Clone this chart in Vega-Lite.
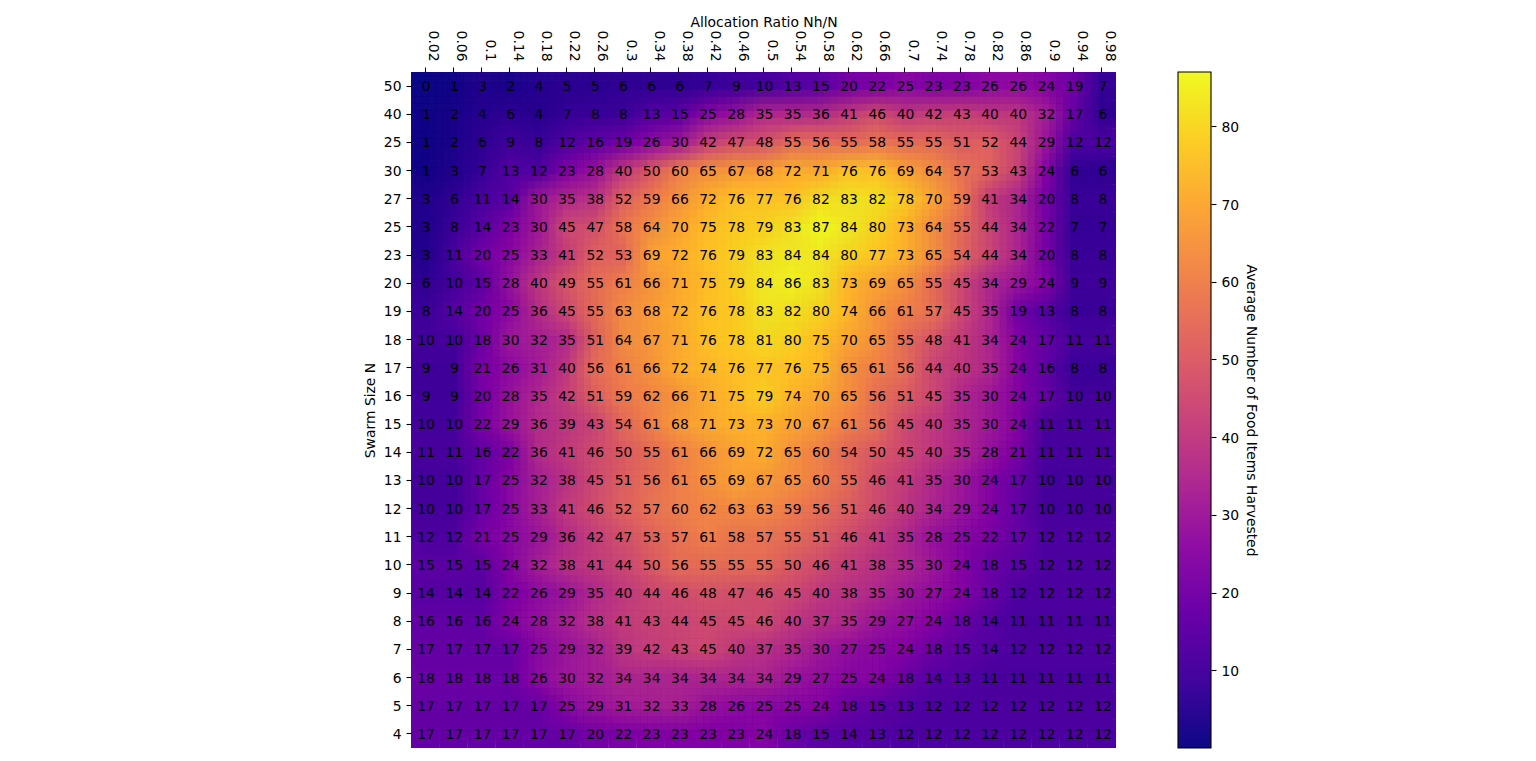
{"$schema":"https://vega.github.io/schema/vega-lite/v6.json","padding":{"left":363,"top":15,"right":5,"bottom":5},"background":"white","config":{"view":{"stroke":null},"font":"DejaVu Sans","axis":{"labelFont":"DejaVu Sans","titleFont":"DejaVu Sans","labelFontSize":13.9,"titleFontSize":13.9,"titleFontWeight":"normal","labelColor":"black","titleColor":"black","tickColor":"black","tickSize":5,"tickWidth":1.1,"labelPadding":5,"grid":false}},"hconcat":[{"width":705,"height":676,"data":{"values":[
{"n":"50","r":0,"a":0.02,"v":0},{"n":"50","r":0,"a":0.06,"v":1},{"n":"50","r":0,"a":0.1,"v":3},{"n":"50","r":0,"a":0.14,"v":2},{"n":"50","r":0,"a":0.18,"v":4},{"n":"50","r":0,"a":0.22,"v":5},{"n":"50","r":0,"a":0.26,"v":5},{"n":"50","r":0,"a":0.3,"v":6},{"n":"50","r":0,"a":0.34,"v":6},{"n":"50","r":0,"a":0.38,"v":6},{"n":"50","r":0,"a":0.42,"v":7},{"n":"50","r":0,"a":0.46,"v":9},{"n":"50","r":0,"a":0.5,"v":10},{"n":"50","r":0,"a":0.54,"v":13},{"n":"50","r":0,"a":0.58,"v":15},{"n":"50","r":0,"a":0.62,"v":20},{"n":"50","r":0,"a":0.66,"v":22},{"n":"50","r":0,"a":0.7,"v":25},{"n":"50","r":0,"a":0.74,"v":23},{"n":"50","r":0,"a":0.78,"v":23},{"n":"50","r":0,"a":0.82,"v":26},{"n":"50","r":0,"a":0.86,"v":26},{"n":"50","r":0,"a":0.9,"v":24},{"n":"50","r":0,"a":0.94,"v":19},{"n":"50","r":0,"a":0.98,"v":7},
{"n":"40","r":1,"a":0.02,"v":1},{"n":"40","r":1,"a":0.06,"v":2},{"n":"40","r":1,"a":0.1,"v":4},{"n":"40","r":1,"a":0.14,"v":6},{"n":"40","r":1,"a":0.18,"v":4},{"n":"40","r":1,"a":0.22,"v":7},{"n":"40","r":1,"a":0.26,"v":8},{"n":"40","r":1,"a":0.3,"v":8},{"n":"40","r":1,"a":0.34,"v":13},{"n":"40","r":1,"a":0.38,"v":15},{"n":"40","r":1,"a":0.42,"v":25},{"n":"40","r":1,"a":0.46,"v":28},{"n":"40","r":1,"a":0.5,"v":35},{"n":"40","r":1,"a":0.54,"v":35},{"n":"40","r":1,"a":0.58,"v":36},{"n":"40","r":1,"a":0.62,"v":41},{"n":"40","r":1,"a":0.66,"v":46},{"n":"40","r":1,"a":0.7,"v":40},{"n":"40","r":1,"a":0.74,"v":42},{"n":"40","r":1,"a":0.78,"v":43},{"n":"40","r":1,"a":0.82,"v":40},{"n":"40","r":1,"a":0.86,"v":40},{"n":"40","r":1,"a":0.9,"v":32},{"n":"40","r":1,"a":0.94,"v":17},{"n":"40","r":1,"a":0.98,"v":6},
{"n":"25","r":2,"a":0.02,"v":1},{"n":"25","r":2,"a":0.06,"v":2},{"n":"25","r":2,"a":0.1,"v":6},{"n":"25","r":2,"a":0.14,"v":9},{"n":"25","r":2,"a":0.18,"v":8},{"n":"25","r":2,"a":0.22,"v":12},{"n":"25","r":2,"a":0.26,"v":16},{"n":"25","r":2,"a":0.3,"v":19},{"n":"25","r":2,"a":0.34,"v":26},{"n":"25","r":2,"a":0.38,"v":30},{"n":"25","r":2,"a":0.42,"v":42},{"n":"25","r":2,"a":0.46,"v":47},{"n":"25","r":2,"a":0.5,"v":48},{"n":"25","r":2,"a":0.54,"v":55},{"n":"25","r":2,"a":0.58,"v":56},{"n":"25","r":2,"a":0.62,"v":55},{"n":"25","r":2,"a":0.66,"v":58},{"n":"25","r":2,"a":0.7,"v":55},{"n":"25","r":2,"a":0.74,"v":55},{"n":"25","r":2,"a":0.78,"v":51},{"n":"25","r":2,"a":0.82,"v":52},{"n":"25","r":2,"a":0.86,"v":44},{"n":"25","r":2,"a":0.9,"v":29},{"n":"25","r":2,"a":0.94,"v":12},{"n":"25","r":2,"a":0.98,"v":12},
{"n":"30","r":3,"a":0.02,"v":1},{"n":"30","r":3,"a":0.06,"v":3},{"n":"30","r":3,"a":0.1,"v":7},{"n":"30","r":3,"a":0.14,"v":13},{"n":"30","r":3,"a":0.18,"v":12},{"n":"30","r":3,"a":0.22,"v":23},{"n":"30","r":3,"a":0.26,"v":28},{"n":"30","r":3,"a":0.3,"v":40},{"n":"30","r":3,"a":0.34,"v":50},{"n":"30","r":3,"a":0.38,"v":60},{"n":"30","r":3,"a":0.42,"v":65},{"n":"30","r":3,"a":0.46,"v":67},{"n":"30","r":3,"a":0.5,"v":68},{"n":"30","r":3,"a":0.54,"v":72},{"n":"30","r":3,"a":0.58,"v":71},{"n":"30","r":3,"a":0.62,"v":76},{"n":"30","r":3,"a":0.66,"v":76},{"n":"30","r":3,"a":0.7,"v":69},{"n":"30","r":3,"a":0.74,"v":64},{"n":"30","r":3,"a":0.78,"v":57},{"n":"30","r":3,"a":0.82,"v":53},{"n":"30","r":3,"a":0.86,"v":43},{"n":"30","r":3,"a":0.9,"v":24},{"n":"30","r":3,"a":0.94,"v":6},{"n":"30","r":3,"a":0.98,"v":6},
{"n":"27","r":4,"a":0.02,"v":3},{"n":"27","r":4,"a":0.06,"v":6},{"n":"27","r":4,"a":0.1,"v":11},{"n":"27","r":4,"a":0.14,"v":14},{"n":"27","r":4,"a":0.18,"v":30},{"n":"27","r":4,"a":0.22,"v":35},{"n":"27","r":4,"a":0.26,"v":38},{"n":"27","r":4,"a":0.3,"v":52},{"n":"27","r":4,"a":0.34,"v":59},{"n":"27","r":4,"a":0.38,"v":66},{"n":"27","r":4,"a":0.42,"v":72},{"n":"27","r":4,"a":0.46,"v":76},{"n":"27","r":4,"a":0.5,"v":77},{"n":"27","r":4,"a":0.54,"v":76},{"n":"27","r":4,"a":0.58,"v":82},{"n":"27","r":4,"a":0.62,"v":83},{"n":"27","r":4,"a":0.66,"v":82},{"n":"27","r":4,"a":0.7,"v":78},{"n":"27","r":4,"a":0.74,"v":70},{"n":"27","r":4,"a":0.78,"v":59},{"n":"27","r":4,"a":0.82,"v":41},{"n":"27","r":4,"a":0.86,"v":34},{"n":"27","r":4,"a":0.9,"v":20},{"n":"27","r":4,"a":0.94,"v":8},{"n":"27","r":4,"a":0.98,"v":8},
{"n":"25","r":5,"a":0.02,"v":3},{"n":"25","r":5,"a":0.06,"v":8},{"n":"25","r":5,"a":0.1,"v":14},{"n":"25","r":5,"a":0.14,"v":23},{"n":"25","r":5,"a":0.18,"v":30},{"n":"25","r":5,"a":0.22,"v":45},{"n":"25","r":5,"a":0.26,"v":47},{"n":"25","r":5,"a":0.3,"v":58},{"n":"25","r":5,"a":0.34,"v":64},{"n":"25","r":5,"a":0.38,"v":70},{"n":"25","r":5,"a":0.42,"v":75},{"n":"25","r":5,"a":0.46,"v":78},{"n":"25","r":5,"a":0.5,"v":79},{"n":"25","r":5,"a":0.54,"v":83},{"n":"25","r":5,"a":0.58,"v":87},{"n":"25","r":5,"a":0.62,"v":84},{"n":"25","r":5,"a":0.66,"v":80},{"n":"25","r":5,"a":0.7,"v":73},{"n":"25","r":5,"a":0.74,"v":64},{"n":"25","r":5,"a":0.78,"v":55},{"n":"25","r":5,"a":0.82,"v":44},{"n":"25","r":5,"a":0.86,"v":34},{"n":"25","r":5,"a":0.9,"v":22},{"n":"25","r":5,"a":0.94,"v":7},{"n":"25","r":5,"a":0.98,"v":7},
{"n":"23","r":6,"a":0.02,"v":3},{"n":"23","r":6,"a":0.06,"v":11},{"n":"23","r":6,"a":0.1,"v":20},{"n":"23","r":6,"a":0.14,"v":25},{"n":"23","r":6,"a":0.18,"v":33},{"n":"23","r":6,"a":0.22,"v":41},{"n":"23","r":6,"a":0.26,"v":52},{"n":"23","r":6,"a":0.3,"v":53},{"n":"23","r":6,"a":0.34,"v":69},{"n":"23","r":6,"a":0.38,"v":72},{"n":"23","r":6,"a":0.42,"v":76},{"n":"23","r":6,"a":0.46,"v":79},{"n":"23","r":6,"a":0.5,"v":83},{"n":"23","r":6,"a":0.54,"v":84},{"n":"23","r":6,"a":0.58,"v":84},{"n":"23","r":6,"a":0.62,"v":80},{"n":"23","r":6,"a":0.66,"v":77},{"n":"23","r":6,"a":0.7,"v":73},{"n":"23","r":6,"a":0.74,"v":65},{"n":"23","r":6,"a":0.78,"v":54},{"n":"23","r":6,"a":0.82,"v":44},{"n":"23","r":6,"a":0.86,"v":34},{"n":"23","r":6,"a":0.9,"v":20},{"n":"23","r":6,"a":0.94,"v":8},{"n":"23","r":6,"a":0.98,"v":8},
{"n":"20","r":7,"a":0.02,"v":6},{"n":"20","r":7,"a":0.06,"v":10},{"n":"20","r":7,"a":0.1,"v":15},{"n":"20","r":7,"a":0.14,"v":28},{"n":"20","r":7,"a":0.18,"v":40},{"n":"20","r":7,"a":0.22,"v":49},{"n":"20","r":7,"a":0.26,"v":55},{"n":"20","r":7,"a":0.3,"v":61},{"n":"20","r":7,"a":0.34,"v":66},{"n":"20","r":7,"a":0.38,"v":71},{"n":"20","r":7,"a":0.42,"v":75},{"n":"20","r":7,"a":0.46,"v":79},{"n":"20","r":7,"a":0.5,"v":84},{"n":"20","r":7,"a":0.54,"v":86},{"n":"20","r":7,"a":0.58,"v":83},{"n":"20","r":7,"a":0.62,"v":73},{"n":"20","r":7,"a":0.66,"v":69},{"n":"20","r":7,"a":0.7,"v":65},{"n":"20","r":7,"a":0.74,"v":55},{"n":"20","r":7,"a":0.78,"v":45},{"n":"20","r":7,"a":0.82,"v":34},{"n":"20","r":7,"a":0.86,"v":29},{"n":"20","r":7,"a":0.9,"v":24},{"n":"20","r":7,"a":0.94,"v":9},{"n":"20","r":7,"a":0.98,"v":9},
{"n":"19","r":8,"a":0.02,"v":8},{"n":"19","r":8,"a":0.06,"v":14},{"n":"19","r":8,"a":0.1,"v":20},{"n":"19","r":8,"a":0.14,"v":25},{"n":"19","r":8,"a":0.18,"v":36},{"n":"19","r":8,"a":0.22,"v":45},{"n":"19","r":8,"a":0.26,"v":55},{"n":"19","r":8,"a":0.3,"v":63},{"n":"19","r":8,"a":0.34,"v":68},{"n":"19","r":8,"a":0.38,"v":72},{"n":"19","r":8,"a":0.42,"v":76},{"n":"19","r":8,"a":0.46,"v":78},{"n":"19","r":8,"a":0.5,"v":83},{"n":"19","r":8,"a":0.54,"v":82},{"n":"19","r":8,"a":0.58,"v":80},{"n":"19","r":8,"a":0.62,"v":74},{"n":"19","r":8,"a":0.66,"v":66},{"n":"19","r":8,"a":0.7,"v":61},{"n":"19","r":8,"a":0.74,"v":57},{"n":"19","r":8,"a":0.78,"v":45},{"n":"19","r":8,"a":0.82,"v":35},{"n":"19","r":8,"a":0.86,"v":19},{"n":"19","r":8,"a":0.9,"v":13},{"n":"19","r":8,"a":0.94,"v":8},{"n":"19","r":8,"a":0.98,"v":8},
{"n":"18","r":9,"a":0.02,"v":10},{"n":"18","r":9,"a":0.06,"v":10},{"n":"18","r":9,"a":0.1,"v":18},{"n":"18","r":9,"a":0.14,"v":30},{"n":"18","r":9,"a":0.18,"v":32},{"n":"18","r":9,"a":0.22,"v":35},{"n":"18","r":9,"a":0.26,"v":51},{"n":"18","r":9,"a":0.3,"v":64},{"n":"18","r":9,"a":0.34,"v":67},{"n":"18","r":9,"a":0.38,"v":71},{"n":"18","r":9,"a":0.42,"v":76},{"n":"18","r":9,"a":0.46,"v":78},{"n":"18","r":9,"a":0.5,"v":81},{"n":"18","r":9,"a":0.54,"v":80},{"n":"18","r":9,"a":0.58,"v":75},{"n":"18","r":9,"a":0.62,"v":70},{"n":"18","r":9,"a":0.66,"v":65},{"n":"18","r":9,"a":0.7,"v":55},{"n":"18","r":9,"a":0.74,"v":48},{"n":"18","r":9,"a":0.78,"v":41},{"n":"18","r":9,"a":0.82,"v":34},{"n":"18","r":9,"a":0.86,"v":24},{"n":"18","r":9,"a":0.9,"v":17},{"n":"18","r":9,"a":0.94,"v":11},{"n":"18","r":9,"a":0.98,"v":11},
{"n":"17","r":10,"a":0.02,"v":9},{"n":"17","r":10,"a":0.06,"v":9},{"n":"17","r":10,"a":0.1,"v":21},{"n":"17","r":10,"a":0.14,"v":26},{"n":"17","r":10,"a":0.18,"v":31},{"n":"17","r":10,"a":0.22,"v":40},{"n":"17","r":10,"a":0.26,"v":56},{"n":"17","r":10,"a":0.3,"v":61},{"n":"17","r":10,"a":0.34,"v":66},{"n":"17","r":10,"a":0.38,"v":72},{"n":"17","r":10,"a":0.42,"v":74},{"n":"17","r":10,"a":0.46,"v":76},{"n":"17","r":10,"a":0.5,"v":77},{"n":"17","r":10,"a":0.54,"v":76},{"n":"17","r":10,"a":0.58,"v":75},{"n":"17","r":10,"a":0.62,"v":65},{"n":"17","r":10,"a":0.66,"v":61},{"n":"17","r":10,"a":0.7,"v":56},{"n":"17","r":10,"a":0.74,"v":44},{"n":"17","r":10,"a":0.78,"v":40},{"n":"17","r":10,"a":0.82,"v":35},{"n":"17","r":10,"a":0.86,"v":24},{"n":"17","r":10,"a":0.9,"v":16},{"n":"17","r":10,"a":0.94,"v":8},{"n":"17","r":10,"a":0.98,"v":8},
{"n":"16","r":11,"a":0.02,"v":9},{"n":"16","r":11,"a":0.06,"v":9},{"n":"16","r":11,"a":0.1,"v":20},{"n":"16","r":11,"a":0.14,"v":28},{"n":"16","r":11,"a":0.18,"v":35},{"n":"16","r":11,"a":0.22,"v":42},{"n":"16","r":11,"a":0.26,"v":51},{"n":"16","r":11,"a":0.3,"v":59},{"n":"16","r":11,"a":0.34,"v":62},{"n":"16","r":11,"a":0.38,"v":66},{"n":"16","r":11,"a":0.42,"v":71},{"n":"16","r":11,"a":0.46,"v":75},{"n":"16","r":11,"a":0.5,"v":79},{"n":"16","r":11,"a":0.54,"v":74},{"n":"16","r":11,"a":0.58,"v":70},{"n":"16","r":11,"a":0.62,"v":65},{"n":"16","r":11,"a":0.66,"v":56},{"n":"16","r":11,"a":0.7,"v":51},{"n":"16","r":11,"a":0.74,"v":45},{"n":"16","r":11,"a":0.78,"v":35},{"n":"16","r":11,"a":0.82,"v":30},{"n":"16","r":11,"a":0.86,"v":24},{"n":"16","r":11,"a":0.9,"v":17},{"n":"16","r":11,"a":0.94,"v":10},{"n":"16","r":11,"a":0.98,"v":10},
{"n":"15","r":12,"a":0.02,"v":10},{"n":"15","r":12,"a":0.06,"v":10},{"n":"15","r":12,"a":0.1,"v":22},{"n":"15","r":12,"a":0.14,"v":29},{"n":"15","r":12,"a":0.18,"v":36},{"n":"15","r":12,"a":0.22,"v":39},{"n":"15","r":12,"a":0.26,"v":43},{"n":"15","r":12,"a":0.3,"v":54},{"n":"15","r":12,"a":0.34,"v":61},{"n":"15","r":12,"a":0.38,"v":68},{"n":"15","r":12,"a":0.42,"v":71},{"n":"15","r":12,"a":0.46,"v":73},{"n":"15","r":12,"a":0.5,"v":73},{"n":"15","r":12,"a":0.54,"v":70},{"n":"15","r":12,"a":0.58,"v":67},{"n":"15","r":12,"a":0.62,"v":61},{"n":"15","r":12,"a":0.66,"v":56},{"n":"15","r":12,"a":0.7,"v":45},{"n":"15","r":12,"a":0.74,"v":40},{"n":"15","r":12,"a":0.78,"v":35},{"n":"15","r":12,"a":0.82,"v":30},{"n":"15","r":12,"a":0.86,"v":24},{"n":"15","r":12,"a":0.9,"v":11},{"n":"15","r":12,"a":0.94,"v":11},{"n":"15","r":12,"a":0.98,"v":11},
{"n":"14","r":13,"a":0.02,"v":11},{"n":"14","r":13,"a":0.06,"v":11},{"n":"14","r":13,"a":0.1,"v":16},{"n":"14","r":13,"a":0.14,"v":22},{"n":"14","r":13,"a":0.18,"v":36},{"n":"14","r":13,"a":0.22,"v":41},{"n":"14","r":13,"a":0.26,"v":46},{"n":"14","r":13,"a":0.3,"v":50},{"n":"14","r":13,"a":0.34,"v":55},{"n":"14","r":13,"a":0.38,"v":61},{"n":"14","r":13,"a":0.42,"v":66},{"n":"14","r":13,"a":0.46,"v":69},{"n":"14","r":13,"a":0.5,"v":72},{"n":"14","r":13,"a":0.54,"v":65},{"n":"14","r":13,"a":0.58,"v":60},{"n":"14","r":13,"a":0.62,"v":54},{"n":"14","r":13,"a":0.66,"v":50},{"n":"14","r":13,"a":0.7,"v":45},{"n":"14","r":13,"a":0.74,"v":40},{"n":"14","r":13,"a":0.78,"v":35},{"n":"14","r":13,"a":0.82,"v":28},{"n":"14","r":13,"a":0.86,"v":21},{"n":"14","r":13,"a":0.9,"v":11},{"n":"14","r":13,"a":0.94,"v":11},{"n":"14","r":13,"a":0.98,"v":11},
{"n":"13","r":14,"a":0.02,"v":10},{"n":"13","r":14,"a":0.06,"v":10},{"n":"13","r":14,"a":0.1,"v":17},{"n":"13","r":14,"a":0.14,"v":25},{"n":"13","r":14,"a":0.18,"v":32},{"n":"13","r":14,"a":0.22,"v":38},{"n":"13","r":14,"a":0.26,"v":45},{"n":"13","r":14,"a":0.3,"v":51},{"n":"13","r":14,"a":0.34,"v":56},{"n":"13","r":14,"a":0.38,"v":61},{"n":"13","r":14,"a":0.42,"v":65},{"n":"13","r":14,"a":0.46,"v":69},{"n":"13","r":14,"a":0.5,"v":67},{"n":"13","r":14,"a":0.54,"v":65},{"n":"13","r":14,"a":0.58,"v":60},{"n":"13","r":14,"a":0.62,"v":55},{"n":"13","r":14,"a":0.66,"v":46},{"n":"13","r":14,"a":0.7,"v":41},{"n":"13","r":14,"a":0.74,"v":35},{"n":"13","r":14,"a":0.78,"v":30},{"n":"13","r":14,"a":0.82,"v":24},{"n":"13","r":14,"a":0.86,"v":17},{"n":"13","r":14,"a":0.9,"v":10},{"n":"13","r":14,"a":0.94,"v":10},{"n":"13","r":14,"a":0.98,"v":10},
{"n":"12","r":15,"a":0.02,"v":10},{"n":"12","r":15,"a":0.06,"v":10},{"n":"12","r":15,"a":0.1,"v":17},{"n":"12","r":15,"a":0.14,"v":25},{"n":"12","r":15,"a":0.18,"v":33},{"n":"12","r":15,"a":0.22,"v":41},{"n":"12","r":15,"a":0.26,"v":46},{"n":"12","r":15,"a":0.3,"v":52},{"n":"12","r":15,"a":0.34,"v":57},{"n":"12","r":15,"a":0.38,"v":60},{"n":"12","r":15,"a":0.42,"v":62},{"n":"12","r":15,"a":0.46,"v":63},{"n":"12","r":15,"a":0.5,"v":63},{"n":"12","r":15,"a":0.54,"v":59},{"n":"12","r":15,"a":0.58,"v":56},{"n":"12","r":15,"a":0.62,"v":51},{"n":"12","r":15,"a":0.66,"v":46},{"n":"12","r":15,"a":0.7,"v":40},{"n":"12","r":15,"a":0.74,"v":34},{"n":"12","r":15,"a":0.78,"v":29},{"n":"12","r":15,"a":0.82,"v":24},{"n":"12","r":15,"a":0.86,"v":17},{"n":"12","r":15,"a":0.9,"v":10},{"n":"12","r":15,"a":0.94,"v":10},{"n":"12","r":15,"a":0.98,"v":10},
{"n":"11","r":16,"a":0.02,"v":12},{"n":"11","r":16,"a":0.06,"v":12},{"n":"11","r":16,"a":0.1,"v":21},{"n":"11","r":16,"a":0.14,"v":25},{"n":"11","r":16,"a":0.18,"v":29},{"n":"11","r":16,"a":0.22,"v":36},{"n":"11","r":16,"a":0.26,"v":42},{"n":"11","r":16,"a":0.3,"v":47},{"n":"11","r":16,"a":0.34,"v":53},{"n":"11","r":16,"a":0.38,"v":57},{"n":"11","r":16,"a":0.42,"v":61},{"n":"11","r":16,"a":0.46,"v":58},{"n":"11","r":16,"a":0.5,"v":57},{"n":"11","r":16,"a":0.54,"v":55},{"n":"11","r":16,"a":0.58,"v":51},{"n":"11","r":16,"a":0.62,"v":46},{"n":"11","r":16,"a":0.66,"v":41},{"n":"11","r":16,"a":0.7,"v":35},{"n":"11","r":16,"a":0.74,"v":28},{"n":"11","r":16,"a":0.78,"v":25},{"n":"11","r":16,"a":0.82,"v":22},{"n":"11","r":16,"a":0.86,"v":17},{"n":"11","r":16,"a":0.9,"v":12},{"n":"11","r":16,"a":0.94,"v":12},{"n":"11","r":16,"a":0.98,"v":12},
{"n":"10","r":17,"a":0.02,"v":15},{"n":"10","r":17,"a":0.06,"v":15},{"n":"10","r":17,"a":0.1,"v":15},{"n":"10","r":17,"a":0.14,"v":24},{"n":"10","r":17,"a":0.18,"v":32},{"n":"10","r":17,"a":0.22,"v":38},{"n":"10","r":17,"a":0.26,"v":41},{"n":"10","r":17,"a":0.3,"v":44},{"n":"10","r":17,"a":0.34,"v":50},{"n":"10","r":17,"a":0.38,"v":56},{"n":"10","r":17,"a":0.42,"v":55},{"n":"10","r":17,"a":0.46,"v":55},{"n":"10","r":17,"a":0.5,"v":55},{"n":"10","r":17,"a":0.54,"v":50},{"n":"10","r":17,"a":0.58,"v":46},{"n":"10","r":17,"a":0.62,"v":41},{"n":"10","r":17,"a":0.66,"v":38},{"n":"10","r":17,"a":0.7,"v":35},{"n":"10","r":17,"a":0.74,"v":30},{"n":"10","r":17,"a":0.78,"v":24},{"n":"10","r":17,"a":0.82,"v":18},{"n":"10","r":17,"a":0.86,"v":15},{"n":"10","r":17,"a":0.9,"v":12},{"n":"10","r":17,"a":0.94,"v":12},{"n":"10","r":17,"a":0.98,"v":12},
{"n":"9","r":18,"a":0.02,"v":14},{"n":"9","r":18,"a":0.06,"v":14},{"n":"9","r":18,"a":0.1,"v":14},{"n":"9","r":18,"a":0.14,"v":22},{"n":"9","r":18,"a":0.18,"v":26},{"n":"9","r":18,"a":0.22,"v":29},{"n":"9","r":18,"a":0.26,"v":35},{"n":"9","r":18,"a":0.3,"v":40},{"n":"9","r":18,"a":0.34,"v":44},{"n":"9","r":18,"a":0.38,"v":46},{"n":"9","r":18,"a":0.42,"v":48},{"n":"9","r":18,"a":0.46,"v":47},{"n":"9","r":18,"a":0.5,"v":46},{"n":"9","r":18,"a":0.54,"v":45},{"n":"9","r":18,"a":0.58,"v":40},{"n":"9","r":18,"a":0.62,"v":38},{"n":"9","r":18,"a":0.66,"v":35},{"n":"9","r":18,"a":0.7,"v":30},{"n":"9","r":18,"a":0.74,"v":27},{"n":"9","r":18,"a":0.78,"v":24},{"n":"9","r":18,"a":0.82,"v":18},{"n":"9","r":18,"a":0.86,"v":12},{"n":"9","r":18,"a":0.9,"v":12},{"n":"9","r":18,"a":0.94,"v":12},{"n":"9","r":18,"a":0.98,"v":12},
{"n":"8","r":19,"a":0.02,"v":16},{"n":"8","r":19,"a":0.06,"v":16},{"n":"8","r":19,"a":0.1,"v":16},{"n":"8","r":19,"a":0.14,"v":24},{"n":"8","r":19,"a":0.18,"v":28},{"n":"8","r":19,"a":0.22,"v":32},{"n":"8","r":19,"a":0.26,"v":38},{"n":"8","r":19,"a":0.3,"v":41},{"n":"8","r":19,"a":0.34,"v":43},{"n":"8","r":19,"a":0.38,"v":44},{"n":"8","r":19,"a":0.42,"v":45},{"n":"8","r":19,"a":0.46,"v":45},{"n":"8","r":19,"a":0.5,"v":46},{"n":"8","r":19,"a":0.54,"v":40},{"n":"8","r":19,"a":0.58,"v":37},{"n":"8","r":19,"a":0.62,"v":35},{"n":"8","r":19,"a":0.66,"v":29},{"n":"8","r":19,"a":0.7,"v":27},{"n":"8","r":19,"a":0.74,"v":24},{"n":"8","r":19,"a":0.78,"v":18},{"n":"8","r":19,"a":0.82,"v":14},{"n":"8","r":19,"a":0.86,"v":11},{"n":"8","r":19,"a":0.9,"v":11},{"n":"8","r":19,"a":0.94,"v":11},{"n":"8","r":19,"a":0.98,"v":11},
{"n":"7","r":20,"a":0.02,"v":17},{"n":"7","r":20,"a":0.06,"v":17},{"n":"7","r":20,"a":0.1,"v":17},{"n":"7","r":20,"a":0.14,"v":17},{"n":"7","r":20,"a":0.18,"v":25},{"n":"7","r":20,"a":0.22,"v":29},{"n":"7","r":20,"a":0.26,"v":32},{"n":"7","r":20,"a":0.3,"v":39},{"n":"7","r":20,"a":0.34,"v":42},{"n":"7","r":20,"a":0.38,"v":43},{"n":"7","r":20,"a":0.42,"v":45},{"n":"7","r":20,"a":0.46,"v":40},{"n":"7","r":20,"a":0.5,"v":37},{"n":"7","r":20,"a":0.54,"v":35},{"n":"7","r":20,"a":0.58,"v":30},{"n":"7","r":20,"a":0.62,"v":27},{"n":"7","r":20,"a":0.66,"v":25},{"n":"7","r":20,"a":0.7,"v":24},{"n":"7","r":20,"a":0.74,"v":18},{"n":"7","r":20,"a":0.78,"v":15},{"n":"7","r":20,"a":0.82,"v":14},{"n":"7","r":20,"a":0.86,"v":12},{"n":"7","r":20,"a":0.9,"v":12},{"n":"7","r":20,"a":0.94,"v":12},{"n":"7","r":20,"a":0.98,"v":12},
{"n":"6","r":21,"a":0.02,"v":18},{"n":"6","r":21,"a":0.06,"v":18},{"n":"6","r":21,"a":0.1,"v":18},{"n":"6","r":21,"a":0.14,"v":18},{"n":"6","r":21,"a":0.18,"v":26},{"n":"6","r":21,"a":0.22,"v":30},{"n":"6","r":21,"a":0.26,"v":32},{"n":"6","r":21,"a":0.3,"v":34},{"n":"6","r":21,"a":0.34,"v":34},{"n":"6","r":21,"a":0.38,"v":34},{"n":"6","r":21,"a":0.42,"v":34},{"n":"6","r":21,"a":0.46,"v":34},{"n":"6","r":21,"a":0.5,"v":34},{"n":"6","r":21,"a":0.54,"v":29},{"n":"6","r":21,"a":0.58,"v":27},{"n":"6","r":21,"a":0.62,"v":25},{"n":"6","r":21,"a":0.66,"v":24},{"n":"6","r":21,"a":0.7,"v":18},{"n":"6","r":21,"a":0.74,"v":14},{"n":"6","r":21,"a":0.78,"v":13},{"n":"6","r":21,"a":0.82,"v":11},{"n":"6","r":21,"a":0.86,"v":11},{"n":"6","r":21,"a":0.9,"v":11},{"n":"6","r":21,"a":0.94,"v":11},{"n":"6","r":21,"a":0.98,"v":11},
{"n":"5","r":22,"a":0.02,"v":17},{"n":"5","r":22,"a":0.06,"v":17},{"n":"5","r":22,"a":0.1,"v":17},{"n":"5","r":22,"a":0.14,"v":17},{"n":"5","r":22,"a":0.18,"v":17},{"n":"5","r":22,"a":0.22,"v":25},{"n":"5","r":22,"a":0.26,"v":29},{"n":"5","r":22,"a":0.3,"v":31},{"n":"5","r":22,"a":0.34,"v":32},{"n":"5","r":22,"a":0.38,"v":33},{"n":"5","r":22,"a":0.42,"v":28},{"n":"5","r":22,"a":0.46,"v":26},{"n":"5","r":22,"a":0.5,"v":25},{"n":"5","r":22,"a":0.54,"v":25},{"n":"5","r":22,"a":0.58,"v":24},{"n":"5","r":22,"a":0.62,"v":18},{"n":"5","r":22,"a":0.66,"v":15},{"n":"5","r":22,"a":0.7,"v":13},{"n":"5","r":22,"a":0.74,"v":12},{"n":"5","r":22,"a":0.78,"v":12},{"n":"5","r":22,"a":0.82,"v":12},{"n":"5","r":22,"a":0.86,"v":12},{"n":"5","r":22,"a":0.9,"v":12},{"n":"5","r":22,"a":0.94,"v":12},{"n":"5","r":22,"a":0.98,"v":12},
{"n":"4","r":23,"a":0.02,"v":17},{"n":"4","r":23,"a":0.06,"v":17},{"n":"4","r":23,"a":0.1,"v":17},{"n":"4","r":23,"a":0.14,"v":17},{"n":"4","r":23,"a":0.18,"v":17},{"n":"4","r":23,"a":0.22,"v":17},{"n":"4","r":23,"a":0.26,"v":20},{"n":"4","r":23,"a":0.3,"v":22},{"n":"4","r":23,"a":0.34,"v":23},{"n":"4","r":23,"a":0.38,"v":23},{"n":"4","r":23,"a":0.42,"v":23},{"n":"4","r":23,"a":0.46,"v":23},{"n":"4","r":23,"a":0.5,"v":24},{"n":"4","r":23,"a":0.54,"v":18},{"n":"4","r":23,"a":0.58,"v":15},{"n":"4","r":23,"a":0.62,"v":14},{"n":"4","r":23,"a":0.66,"v":13},{"n":"4","r":23,"a":0.7,"v":12},{"n":"4","r":23,"a":0.74,"v":12},{"n":"4","r":23,"a":0.78,"v":12},{"n":"4","r":23,"a":0.82,"v":12},{"n":"4","r":23,"a":0.86,"v":12},{"n":"4","r":23,"a":0.9,"v":12},{"n":"4","r":23,"a":0.94,"v":12},{"n":"4","r":23,"a":0.98,"v":12}
]},"encoding":{"x":{"field":"a","type":"ordinal","scale":{"paddingInner":0,"paddingOuter":0},"axis":{"orient":"top","title":"Allocation Ratio Nh/N","labelAngle":90,"labelBaseline":"bottom","labelAlign":"right","labelOffset":1,"labelPadding":6,"domain":false,"titlePadding":1}},"y":{"field":"r","type":"ordinal","scale":{"paddingInner":0,"paddingOuter":0},"axis":{"title":"Swarm Size N","titlePadding":6,"domain":false,"labelAngle":0,"labelOffset":1,"labelExpr":"['50','40','25','30','27','25','23','20','19','18','17','16','15','14','13','12','11','10','9','8','7','6','5','4'][datum.value]"}},"color":{"field":"v","type":"quantitative","scale":{"scheme":"plasma","domain":[0,87]},"legend":null}},"layer":[
{"mark":{"type":"rect","clip":true}},
{"mark":{"type":"rect","clip":true,"xOffset":-10.575,"yOffset":-10.575,"opacity":1}},
{"mark":{"type":"rect","clip":true,"xOffset":-3.525,"yOffset":-10.575,"opacity":0.5}},
{"mark":{"type":"rect","clip":true,"xOffset":3.525,"yOffset":-10.575,"opacity":0.3333}},
{"mark":{"type":"rect","clip":true,"xOffset":10.575,"yOffset":-10.575,"opacity":0.25}},
{"mark":{"type":"rect","clip":true,"xOffset":-10.575,"yOffset":-3.525,"opacity":0.2}},
{"mark":{"type":"rect","clip":true,"xOffset":-3.525,"yOffset":-3.525,"opacity":0.1667}},
{"mark":{"type":"rect","clip":true,"xOffset":3.525,"yOffset":-3.525,"opacity":0.1429}},
{"mark":{"type":"rect","clip":true,"xOffset":10.575,"yOffset":-3.525,"opacity":0.125}},
{"mark":{"type":"rect","clip":true,"xOffset":-10.575,"yOffset":3.525,"opacity":0.1111}},
{"mark":{"type":"rect","clip":true,"xOffset":-3.525,"yOffset":3.525,"opacity":0.1}},
{"mark":{"type":"rect","clip":true,"xOffset":3.525,"yOffset":3.525,"opacity":0.0909}},
{"mark":{"type":"rect","clip":true,"xOffset":10.575,"yOffset":3.525,"opacity":0.0833}},
{"mark":{"type":"rect","clip":true,"xOffset":-10.575,"yOffset":10.575,"opacity":0.0769}},
{"mark":{"type":"rect","clip":true,"xOffset":-3.525,"yOffset":10.575,"opacity":0.0714}},
{"mark":{"type":"rect","clip":true,"xOffset":3.525,"yOffset":10.575,"opacity":0.0667}},
{"mark":{"type":"rect","clip":true,"xOffset":10.575,"yOffset":10.575,"opacity":0.0625}},
{"mark":{"type":"text","font":"DejaVu Sans","fontSize":13.9,"align":"center","baseline":"middle","dx":1,"dy":1},"encoding":{"text":{"field":"v","type":"quantitative"},"color":{"value":"black"}}}
]},{"width":33,"height":676,"data":{"values":[{"lo":0,"hi":87}]},"mark":{"type":"rect","stroke":"black","strokeWidth":1.1,"color":{"gradient":"linear","x1":0,"y1":1,"x2":0,"y2":0,"stops":[{"offset":0,"color":"#0d0887"},{"offset":0.1,"color":"#41049d"},{"offset":0.2,"color":"#6a00a8"},{"offset":0.3,"color":"#8f0da4"},{"offset":0.4,"color":"#b12a90"},{"offset":0.5,"color":"#cc4778"},{"offset":0.6,"color":"#e16462"},{"offset":0.7,"color":"#f1844b"},{"offset":0.8,"color":"#fca636"},{"offset":0.9,"color":"#fcce25"},{"offset":1,"color":"#f0f921"}]}},"encoding":{"y":{"field":"lo","type":"quantitative","scale":{"domain":[0,87],"nice":false},"axis":{"orient":"right","values":[10,20,30,40,50,60,70,80],"title":"Average Number of Food Items Harvested","titleAngle":90,"domain":false,"titlePadding":5,"labelOffset":1}},"y2":{"field":"hi"}}}],"spacing":60,"resolve":{"scale":{"color":"independent"}}}
